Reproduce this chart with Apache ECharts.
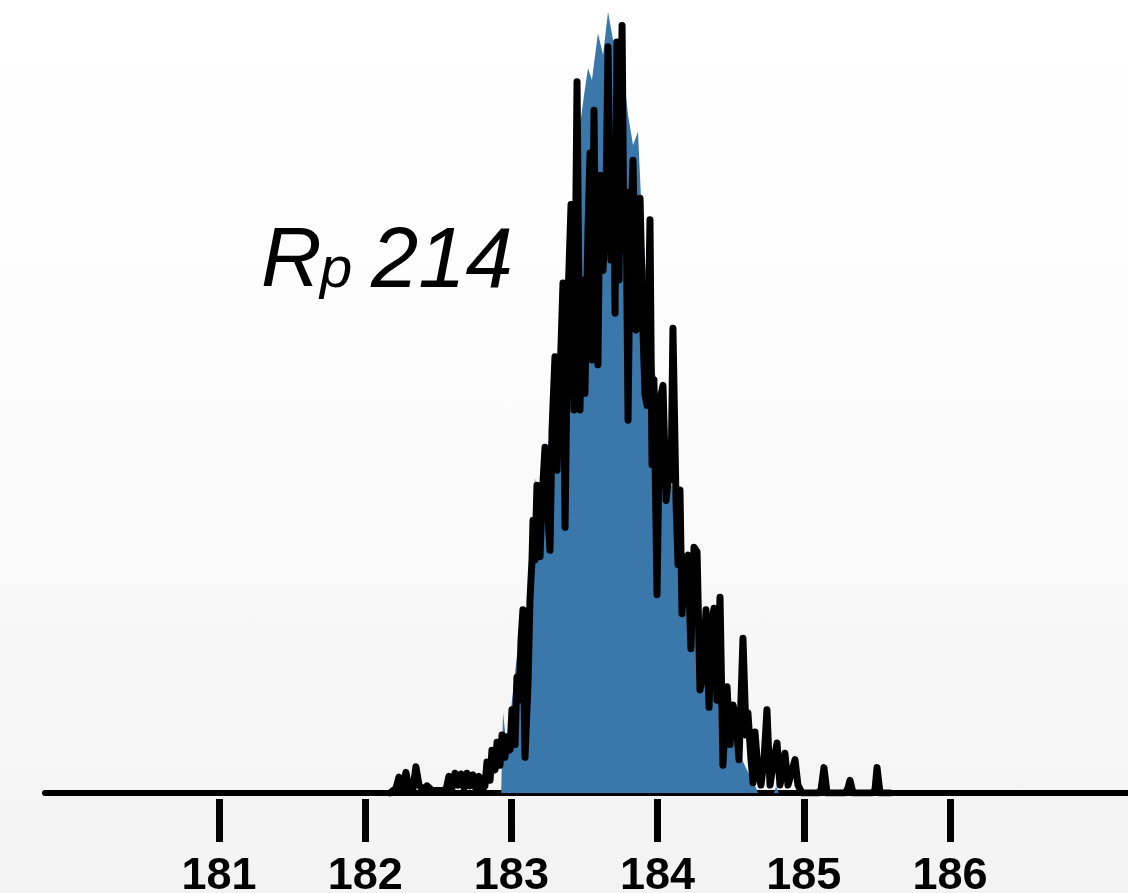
<!DOCTYPE html>
<html>
<head>
<meta charset="utf-8">
<script src="https://cdn.jsdelivr.net/npm/echarts@6/dist/echarts.min.js"></script>
<style>
  html, body { margin: 0; padding: 0; width: 1128px; height: 893px; overflow: hidden;
    background: linear-gradient(to bottom, #ffffff 0%, #fdfdfd 35%, #f3f3f3 100%); }
  #chart { width: 1128px; height: 893px; }
</style>
</head>
<body>
<div id="chart"></div>
<script>
// Axis ticks and visible range (mass, Da)
const tickValues = [181, 182, 183, 184, 185, 186];
const xRange = [179.81, 187.2175];

// Fine-binned counts (black trace)
const countsX = [
  182.170, 182.211, 182.231, 182.252, 182.279, 182.300, 182.327, 182.347, 182.368, 182.395,
  182.423, 182.457, 182.518, 182.553, 182.573, 182.594, 182.614, 182.635, 182.655, 182.676,
  182.696, 182.717, 182.737, 182.758, 182.778, 182.799, 182.819, 182.833, 182.854, 182.867,
  182.888, 182.902, 182.922, 182.936,
  182.956, 182.970, 182.990, 183.004, 183.025, 183.038, 183.052, 183.066, 183.079, 183.093,
  183.114, 183.127, 183.141,
  183.148, 183.161, 183.175, 183.196, 183.209, 183.230, 183.244, 183.264, 183.278, 183.298,
  183.312, 183.332, 183.353, 183.367, 183.387, 183.408, 183.428, 183.449, 183.469, 183.490,
  183.503, 183.524, 183.538, 183.551, 183.565, 183.579, 183.592, 183.606, 183.627, 183.647,
  183.661, 183.681, 183.702, 183.709, 183.722, 183.736, 183.757, 183.770, 183.784, 183.798,
  183.811, 183.832, 183.852, 183.866, 183.880, 183.900, 183.914, 183.928, 183.948, 183.962,
  183.975, 183.996, 184.016, 184.037, 184.058, 184.078, 184.092, 184.105, 184.126, 184.140,
  184.153, 184.167, 184.187, 184.208, 184.228, 184.249, 184.270, 184.290, 184.311, 184.331,
  184.352, 184.372, 184.386, 184.406, 184.427, 184.447, 184.475, 184.495, 184.516, 184.536,
  184.557, 184.584, 184.605, 184.618, 184.639, 184.653, 184.666, 184.687, 184.707, 184.728,
  184.748, 184.769, 184.796, 184.817, 184.837, 184.858, 184.871, 184.892, 184.912, 184.940,
  184.960, 184.988, 185.097, 185.118, 185.138, 185.159, 185.282, 185.302, 185.316, 185.337,
  185.467, 185.487, 185.501, 185.521, 185.590
];
const countsY = [
  0, 0.6, 2.0, 0.4, 2.6, 0.5, 0.5, 3.3, 1.0, 0.4,
  0.9, 0.3, 0.3, 0.4, 2.1, 0.6, 2.5, 1.0, 2.4, 0.6,
  2.5, 0.9, 2.3, 0.5, 2.1, 0.4, 0.9, 3.9, 1.6, 5.4,
  2.9, 6.4, 3.5, 7.3,
  4.5, 7.1, 5.4, 10.5, 6.1, 14.6, 11.7, 19.3, 23.1, 4.5,
  13.9, 24.3, 29.4,
  34.4, 29.4, 38.8, 29.8, 36.9, 43.6, 36.9, 30.6, 45.8, 55.0,
  40.7, 52.1, 64.3, 33.5, 62.2, 74.2, 48.3, 89.7, 48.3, 64.7,
  50.4, 71.0, 80.7, 54.6, 86.1, 62.2, 54.0, 77.9, 65.9, 74.8,
  94.1, 67.2, 75.8, 60.5, 94.7, 64.7, 96.8, 68.5, 75.8, 47.0,
  68.5, 79.8, 58.4, 71.0, 75.0, 58.4, 50.2, 48.9, 72.3, 41.4,
  52.1, 25.0, 49.6, 51.4, 36.9, 40.7, 39.5, 58.6, 36.9, 28.8,
  38.2, 22.6, 29.4, 30.0, 18.2, 31.0, 30.4, 13.0, 14.8, 23.1,
  10.8, 21.8, 23.3, 11.7, 24.7, 3.5, 13.4, 6.1, 11.1, 9.2,
  4.2, 19.5, 7.3, 10.1, 4.2, 1.3, 7.7, 2.9, 1.0, 4.2,
  10.5, 1.0, 4.2, 6.3, 1.0, 2.9, 5.0, 1.0, 2.3, 4.2,
  1.0, 0, 0, 0.4, 3.2, 0, 0, 0.6, 1.6, 0,
  0, 0.4, 3.2, 0, 0
];

// Coarser distribution (blue filled area)
const densityX = [
  182.930, 182.943, 182.970, 183.004, 183.038, 183.066, 183.093, 183.120, 183.141, 183.161,
  183.189, 183.223, 183.257, 183.285, 183.319, 183.353, 183.380, 183.408, 183.435, 183.469,
  183.497, 183.524, 183.551, 183.592, 183.627, 183.661, 183.695, 183.729, 183.763, 183.798,
  183.832, 183.866, 183.887, 183.914, 183.948, 183.982, 184.016, 184.051, 184.085, 184.119,
  184.153, 184.187, 184.222, 184.256, 184.290, 184.324, 184.358, 184.393, 184.427, 184.461,
  184.495, 184.530, 184.564, 184.598, 184.632, 184.666, 184.687, 184.796, 184.810, 184.830
];
const densityY = [
  0, 10.1, 5.4, 11.7, 17.2, 14.3, 21.8, 25.6, 31.9, 39.8,
  35.7, 41.0, 44.5, 49.6, 55.9, 62.2, 66.0, 71.0, 78.6, 84.2,
  88.0, 91.4, 89.9, 95.8, 93.1, 98.5, 95.0, 94.2, 91.2, 85.5,
  81.7, 83.4, 74.8, 67.2, 59.6, 53.0, 47.9, 43.5, 40.0, 36.6,
  33.4, 30.0, 27.1, 24.5, 21.8, 18.9, 16.1, 13.6, 11.7, 10.0,
  8.2, 6.3, 4.8, 3.4, 2.1, 1.0, 0, 0, 0.8, 0
];

const chart = echarts.init(document.getElementById('chart'), null, { renderer: 'canvas' });

const pair = (xs, ys) => xs.map((x, i) => [x, ys[i]]);
const labelFont = '"Liberation Sans", Arial, sans-serif';

chart.setOption({
  backgroundColor: 'transparent',
  animation: false,
  grid: { left: 45, right: 0, top: 0, bottom: 100, containLabel: false, outerBoundsMode: 'none' },
  xAxis: [
    {
      type: 'value', min: xRange[0], max: xRange[1], position: 'bottom',
      axisLine: { show: true, lineStyle: { color: '#000', width: 6 } },
      axisTick: { show: false }, axisLabel: { show: false }, splitLine: { show: false }
    },
    {
      type: 'value', min: xRange[0], max: xRange[1], position: 'bottom', offset: 6,
      axisLine: { show: false },
      axisTick: { show: true, length: 43, customValues: tickValues,
        lineStyle: { color: '#000', width: 7 } },
      axisLabel: { show: true, customValues: tickValues, margin: 55,
        fontSize: 45, fontWeight: 'bold', color: '#000', fontFamily: labelFont },
      splitLine: { show: false }
    }
  ],
  yAxis: { type: 'value', min: 0, max: 100, show: false, splitLine: { show: false } },
  graphic: [
    { type: 'text', x: 261, y: 263, z: 10,
      style: { text: 'R', font: 'italic 84px ' + labelFont, fill: '#000',
        textAlign: 'left', align: 'left', textVerticalAlign: 'middle', verticalAlign: 'middle' } },
    { type: 'text', x: 320, y: 271, z: 10,
      style: { text: 'p', font: 'italic 58px ' + labelFont, fill: '#000',
        textAlign: 'left', align: 'left', textVerticalAlign: 'middle', verticalAlign: 'middle' } },
    { type: 'text', x: 371, y: 263, z: 10,
      style: { text: '214', font: 'italic 85px ' + labelFont, fill: '#000',
        textAlign: 'left', align: 'left', textVerticalAlign: 'middle', verticalAlign: 'middle' } }
  ],
  series: [
    {
      name: 'distribution', type: 'line', xAxisIndex: 0, yAxisIndex: 0,
      data: pair(densityX, densityY), showSymbol: false, silent: true, z: 2,
      lineStyle: { width: 0 },
      areaStyle: { color: '#3a77ab', opacity: 1 }
    },
    {
      name: 'counts', type: 'line', xAxisIndex: 0, yAxisIndex: 0,
      data: pair(countsX, countsY), showSymbol: false, silent: true, z: 3,
      lineStyle: { color: '#000', width: 7, cap: 'round', join: 'round' }
    }
  ]
});
</script>
</body>
</html>
